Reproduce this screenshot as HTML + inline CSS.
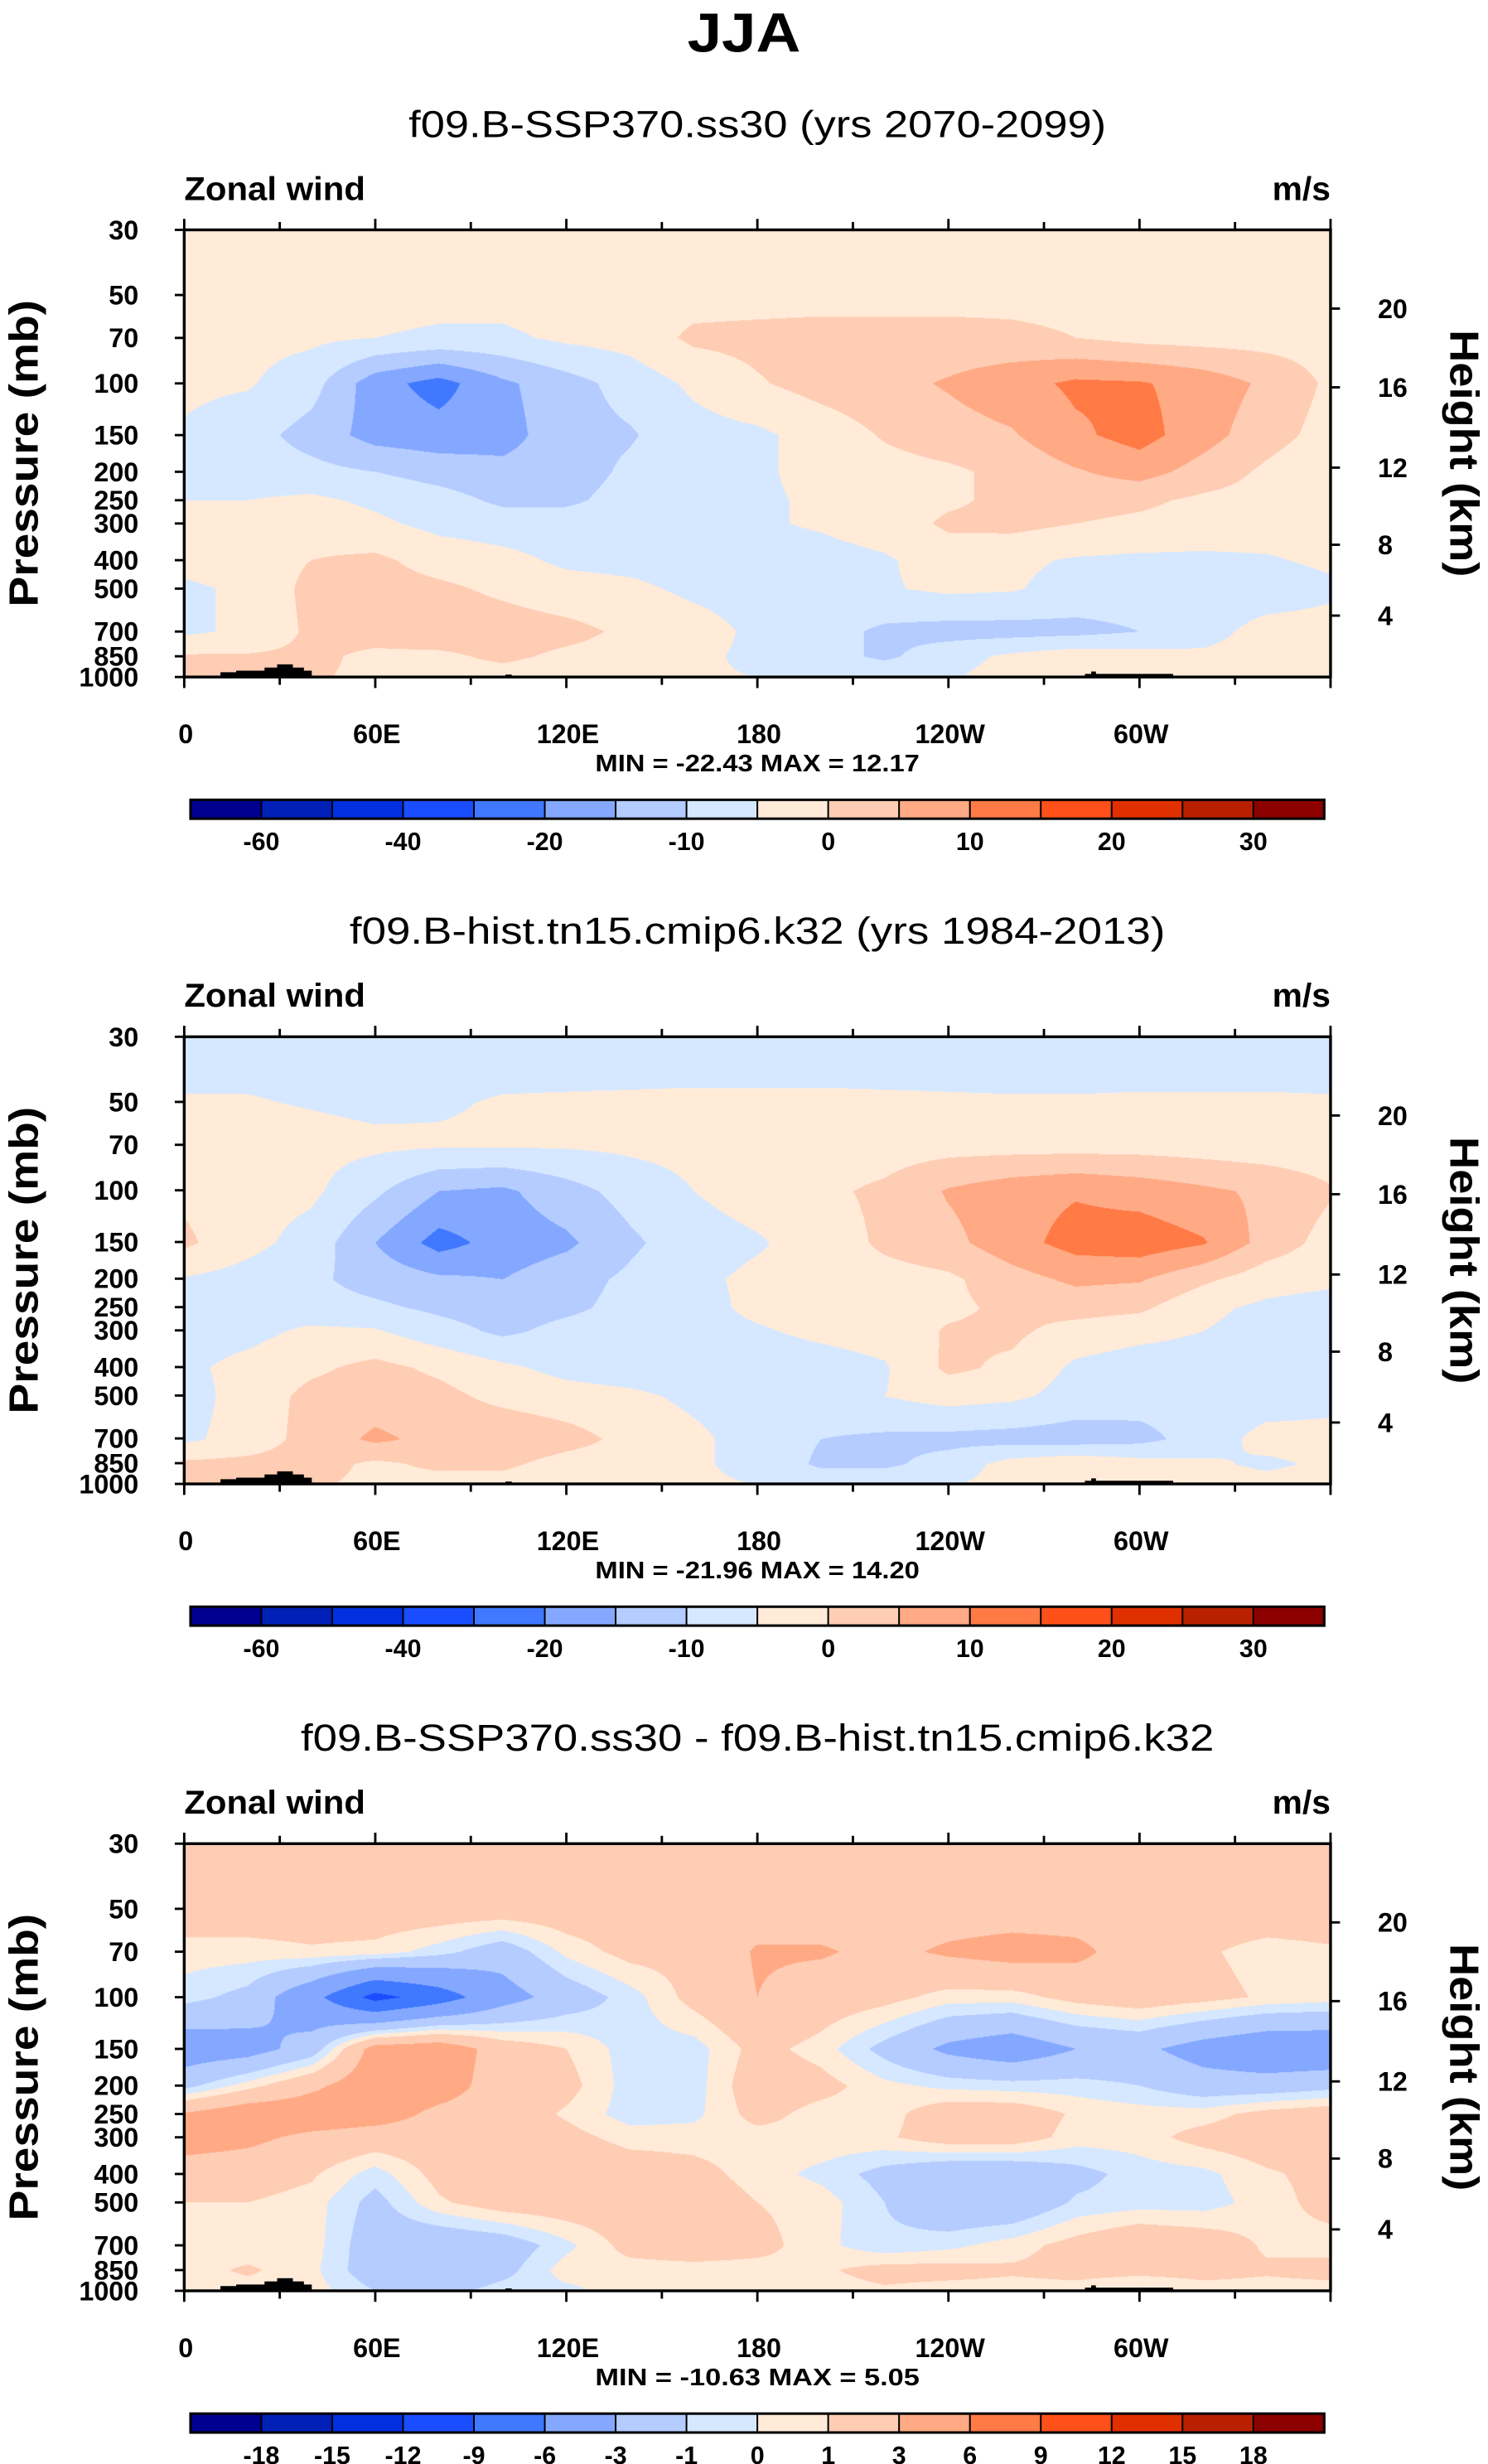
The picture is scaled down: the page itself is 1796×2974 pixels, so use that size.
<!DOCTYPE html>
<html><head><meta charset="utf-8">
<style>
html,body{margin:0;padding:0;background:#fff;}
body{width:1796px;height:2974px;overflow:hidden;position:relative;}
#stage{position:absolute;left:0;top:0;width:945px;height:1565px;transform:scale(1.90053,1.90032);transform-origin:0 0;}
canvas{position:absolute;}
svg{position:absolute;left:0;top:0;}
text{font-family:"Liberation Sans",Arial,sans-serif;font-weight:bold;fill:#000;}
</style></head>
<body>
<div id="stage">
<canvas id="c0" width="1383" height="540" style="left:117px;top:146px;width:728px;height:284px"></canvas>
<canvas id="c1" width="1383" height="540" style="left:117px;top:658.5px;width:728px;height:284px"></canvas>
<canvas id="c2" width="1383" height="540" style="left:117px;top:1171px;width:728px;height:284px"></canvas>
<svg id="sv" width="945" height="1565" viewBox="0 0 945 1565"></svg>
</div>
<script>
const PRESS = [30,50,70,100,150,200,250,300,400,500,700,850,1000];
const LONS = [0,20,40,60,80,100,120,140,160,180,200,220,240,260,280,300,320,340,360];
const LEVELS_ABS = [-60,-50,-40,-30,-20,-15,-10,-5,0,5,10,15,20,25,30];
const LEVELS_DIFF = [-18,-15,-12,-9,-6,-3,-1,0,1,3,6,9,12,15,18];
const LABELS_ABS = ["-60","-40","-20","-10","0","10","20","30"];
const LABEL_IDX_ABS = [0,2,4,6,8,10,12,14];
const LABELS_DIFF = ["-18","-15","-12","-9","-6","-3","-1","0","1","3","6","9","12","15","18"];
const COLORS = ["#000090","#0020B8","#0030E0","#1A4DFF","#4078FF","#84A8FF","#B4CCFF","#D6E8FF","#FFEBD8","#FFCCB4","#FFAA84","#FF7A45","#FF501A","#E03000","#B82000","#8C0000"];
const X_TICKS = ["0","60E","120E","180","120W","60W"];
const HEIGHT_KM = ["20","16","12","8","4"];

const U_SSP = [
[-2,-2,-2,-2,-2,-2,-2,-2,-2,-2,-2,-2,-2,-2,-2,-2,-2,-2,-2],
[-2,-2,-2,-2.5,-3,-3,-2.5,-2,-2,-2,-2,-2,-2,-2,-2,-2,-2,-2,-2],
[-3,-3.5,-4,-5,-6,-6,-4,-3,1,1.5,2,2,2,1.5,0,-1.5,-2,-2,-2],
[-4,-4.5,-8,-18,-22,-16,-12,-8,-4,-0.5,2,3.5,5.5,8,11,10.5,8,4,-1],
[-5.5,-8,-12,-17,-18,-17,-12,-10.5,-7,-6,-3,0.5,3,4.5,9,12,7,2,-2],
[-6,-7.5,-8.5,-10,-12,-13.5,-12.5,-9,-6,-5.5,-4,-2,-1,1.5,4.5,7,3,-1,-4],
[-5,-5,-4,-6,-8,-11,-11,-8,-6.5,-5.5,-4.5,-3,-1,1.5,2,1,-1,-2,-3],
[-3,-2.5,-2,-4,-6.5,-7.5,-7.5,-7,-6.5,-5.5,-4.5,-3,1,1.5,0,-1,-2,-2.5,-3],
[-3,-2.5,0,1,-2,-3.5,-6,-6.5,-7,-7,-6.5,-5.5,-3,-4,-5.5,-6,-6,-5.5,-4],
[-6,-4,1.5,2,1,-1,-3,-4,-6,-7,-7,-5.5,-4,-4.5,-7,-7.5,-8,-8,-6],
[-6,-4,1,2,3,2.5,1.5,-1,-3,-6,-8,-11,-12,-12,-11.5,-10,-7,-3,-3],
[0.5,0.5,1,-1,-1,1,-1,-2,-4,-6,-8,-11,-7,-4,-2,-3,-4,-3,-2],
[1,1,0.5,-1,-2,-2,-3,-4,-4.5,-5,-6,-6,-5.5,-3,-1,-2,-3,-3,-2]
];
const U_HIST = [
[-7,-7,-7,-7,-7,-7,-7,-7,-7,-7,-7,-7,-7,-7,-7,-7,-7,-7,-7],
[-4.7,-4.7,-5.3,-6,-5.4,-4.7,-4.6,-4.5,-4.4,-4.4,-4.4,-4.5,-4.6,-4.7,-4.7,-4.6,-4.6,-4.6,-4.7],
[-3,-3,-3.5,-4,-4.5,-4.5,-4.5,-4,-3.5,-3,-3,-2.5,-2,-2,-2,-2,-2.5,-3,-3],
[-1,-3,-4,-9,-15,-16,-12,-8,-5,-3,-1,1,5.5,8,9.5,8,6,4,0.5],
[1,-3.5,-7,-15,-22,-18,-16,-11,-7,-5.5,-3,1,3.5,8,12,13,10.5,3,-2],
[-5.5,-7,-9,-12,-14,-15,-12,-9,-6,-4,-3,-2,-1,3,6,5.5,1,-3,-4],
[-7,-7.5,-8,-9,-11,-12.5,-11,-8.5,-6.5,-4,-3,-2,-1,1,2,1,-4,-6,-7],
[-7,-6.5,-4,-4.5,-8,-11,-8.5,-7.5,-6.5,-5.5,-4,-3,0.5,1,-2,-3.5,-5,-6.5,-7],
[-6,-3.5,-1,1.5,-1,-4,-6.5,-7.5,-8,-7.5,-7,-5.5,1,-1,-6,-7.5,-7.5,-7.5,-7.5],
[-7,-3,1.5,2.5,1.5,-1.5,-3,-4,-6,-7,-7,-5,-3,-4,-7,-8,-8,-8,-7],
[-6,-3,2,6,3.5,4,2,-1.5,-4,-7,-10,-11,-11.5,-12,-12.5,-11.5,-8,-3,-3],
[1,1.5,2,-1,1,1,-2,-3,-4.5,-6,-11,-11,-8,-3,-1,-3,-4,-6,-4],
[1,1,0.5,-1,-2,-2,-3,-4,-4.5,-5,-6,-6,-5.5,-3,-1,-2,-3,-3,-2]
];
const U_DIFF = [
[2.5,2.5,2.5,2.5,2.5,2.5,2.5,2.5,2.5,2.5,2.5,2.5,2.5,2.5,2.5,2.5,2.5,2.5,2.5],
[2,2,2,2,2,2,2,2,2,2,2,2,2,2,2,2,2,2,2],
[0.5,0.5,0.8,0.6,-0.5,-2,0.3,1.5,1.5,3.2,3.2,2.5,3.3,3.8,3.5,2,1.2,0.5,0.8],
[-0.5,-1.5,-5,-10,-7.5,-4,-2,-0.5,1.5,3,2,1.5,0.5,0.5,1.5,2,1.5,0.8,0.5],
[-4.5,-4,-2,4,4.5,2,1,-0.5,-0.5,1.5,0.5,-1.5,-3.5,-4.5,-3,-2.5,-4,-5,-5],
[-1.5,0.5,2.5,4.5,4,2,1.5,-0.5,-0.5,2,1.5,0.3,-0.3,-0.5,-0.5,-1,-2,-2,-1.5],
[3.2,4.5,4.5,4,2.5,2,0.8,-0.5,-0.3,1.5,0.5,0.5,2,2,0.8,0.5,0.5,1.5,2],
[4,3.5,2.5,2,2,2,1.5,0.5,0.5,0.5,0.7,0.8,1.8,1.8,0.5,0.5,1.5,2,2],
[2,1.8,1.2,-0.5,1.5,2.5,2.5,2,1.5,0.5,-0.3,-1.5,-2.5,-2.5,-1.5,-0.5,-0.3,0.8,1.5],
[1,1,0.5,-1.5,0.8,1.8,2,2,2,1,0.5,-1,-2.5,-2.5,-0.8,-0.5,-0.5,0.5,1.5],
[0.5,0.3,0.5,-2,-2.5,-2,-0.3,1.5,2,1.5,0.3,-0.7,-0.3,0.5,1.5,2.5,2,0.8,0.5],
[0.5,1.2,0.3,-2,-2.5,-1.5,0.5,0.5,0.5,0.5,0.8,1.5,1.5,1.2,1.5,1.5,1.5,1.2,1.5],
[0.5,0.5,0.5,-1,-1.5,-0.5,-0.3,0.5,0.5,0.5,0.5,0.8,0.5,0.5,0.5,-0.3,0.5,0.5,0.5]
];

const PL = 117, PW = 728, PH = 284;
const LOGSPAN = Math.log(1000/30);
function yOfP(p){ return Math.log(p/30)/LOGSPAN*PH; }
function xOfLon(l){ return PL + l/360*PW; }

function colorIndex(v, lev){ let i=0; while(i<lev.length && v>=lev[i]) i++; return i; }
function hexToRgb(h){ return [parseInt(h.substr(1,2),16),parseInt(h.substr(3,2),16),parseInt(h.substr(5,2),16)]; }
const RGB = COLORS.map(hexToRgb);

function drawField(id, grid, lev){
  const cv=document.getElementById(id), ctx=cv.getContext('2d');
  const W=cv.width,H=cv.height, img=ctx.createImageData(W,H);
  const rowY = PRESS.map(p=>yOfP(p)/PH);
  for(let py=0;py<H;py++){
    const f=(py+0.5)/H;
    let r=0; while(r<PRESS.length-2 && f>rowY[r+1]) r++;
    const t=Math.min(1,Math.max(0,(f-rowY[r])/(rowY[r+1]-rowY[r])));
    for(let px=0;px<W;px++){
      const lon=(px+0.5)/W*360;
      let c=0; while(c<LONS.length-2 && lon>LONS[c+1]) c++;
      const s=(lon-LONS[c])/(LONS[c+1]-LONS[c]);
      const v=(grid[r][c]*(1-s)+grid[r][c+1]*s)*(1-t)+(grid[r+1][c]*(1-s)+grid[r+1][c+1]*s)*t;
      const col=RGB[colorIndex(v,lev)], k=(py*W+px)*4;
      img.data[k]=col[0];img.data[k+1]=col[1];img.data[k+2]=col[2];img.data[k+3]=255;
    }
  }
  ctx.putImageData(img,0,0);
}
drawField('c0',U_SSP,LEVELS_ABS);
drawField('c1',U_HIST,LEVELS_ABS);
drawField('c2',U_DIFF,LEVELS_DIFF);

const NS='http://www.w3.org/2000/svg', sv=document.getElementById('sv');
function mk(tag,attrs,parent){ const e=document.createElementNS(NS,tag); for(const k in attrs) e.setAttribute(k,attrs[k]); (parent||sv).appendChild(e); return e; }
function txt(s,x,y,size,anchor,parent,extra){ const e=mk('text',Object.assign({x:x,y:y,'font-size':size,'text-anchor':anchor||'start'},extra||{}),parent); e.textContent=s; return e; }

let t=txt('JJA',472.5,33,35,'middle',null,{textLength:72,lengthAdjust:'spacingAndGlyphs'});
 

const SUBS=["f09.B-SSP370.ss30 (yrs 2070-2099)","f09.B-hist.tn15.cmip6.k32 (yrs 1984-2013)","f09.B-SSP370.ss30 - f09.B-hist.tn15.cmip6.k32"];
const SUBW=[443,518,580];
const MINMAX=["MIN = -22.43  MAX =  12.17","MIN = -21.96  MAX =  14.20","MIN = -10.63  MAX =  5.05"];
const KMOFF=[50,100,151,200,245];
const XLAB_LON=[0,60,120,180,240,300];

for(let i=0;i<3;i++){
  const top=146+i*512.5;
  const g=mk('g',{});
  
  
  let e=txt(SUBS[i],481,top-59,24,'middle',g,{textLength:SUBW[i],lengthAdjust:'spacingAndGlyphs'});
  e.setAttribute('style','font-weight:normal');
   
  e=txt('Zonal wind',117,top-19,21,'start',g,{textLength:115,lengthAdjust:'spacingAndGlyphs'});
   
  e=txt('m/s',845,top-19,21,'end',g,{textLength:37,lengthAdjust:'spacingAndGlyphs'});
   
  const topo=mk('path',{d:`M140,${top+284} L140,${top+281} L150,${top+281} L150,${top+280} L168,${top+280} L168,${top+278} L176,${top+278} L176,${top+276} L186,${top+276} L186,${top+278} L193,${top+278} L193,${top+280} L198,${top+280} L198,${top+284} Z M321,${top+284} L321,${top+282.5} L325,${top+282.5} L325,${top+284} Z M689,${top+284} L689,${top+282} L693,${top+282} L693,${top+280.5} L696,${top+280.5} L696,${top+282} L745,${top+282} L745,${top+284} Z`,fill:'#000'},g);
   
  e=mk('rect',{x:PL,y:top,width:PW,height:PH,fill:'none',stroke:'#000','stroke-width':1.8},g);
   
  PRESS.forEach(p=>{
    const y=top+yOfP(p);
    mk('line',{x1:PL-6,x2:PL,y1:y,y2:y,stroke:'#000','stroke-width':1.5},g);
    const l=txt(String(p),88,y+6,17,'end',g);
     
  });
  HEIGHT_KM.forEach((h,k)=>{
    const y=top+KMOFF[k];
    mk('line',{x1:PL+PW,x2:PL+PW+6,y1:y,y2:y,stroke:'#000','stroke-width':1.5},g);
    const l=txt(h,875,y+6,17,'start',g);
     
  });
  for(let lon=0;lon<=360;lon+=30){
    const x=xOfLon(lon), len=(lon%60===0)?7:5;
    mk('line',{x1:x,x2:x,y1:top+PH,y2:top+PH+len,stroke:'#000','stroke-width':1.5},g);
    mk('line',{x1:x,x2:x,y1:top,y2:top-len,stroke:'#000','stroke-width':1.5},g);
  }
  X_TICKS.forEach((s,k)=>{
    const l=txt(s,xOfLon(XLAB_LON[k])+1,top+PH+42,17,'middle',g);
     
  });
  e=txt('Pressure (mb)',0,0,26,'middle',g,{transform:`translate(24,${top+142}) rotate(-90)`,textLength:195,lengthAdjust:'spacingAndGlyphs'});
   
  e=txt('Height (km)',0,0,26,'middle',g,{transform:`translate(921,${top+142}) rotate(90)`,textLength:157,lengthAdjust:'spacingAndGlyphs'});
   
  e=txt(MINMAX[i],481,top+PH+60,15,'middle',g,{textLength:206,lengthAdjust:'spacingAndGlyphs'});
   
  const cb=mk('g',{},g);
   
  const cy=top+362, bw=45;
  COLORS.forEach((c,k)=>{
    const r=mk('rect',{x:121+k*bw,y:cy,width:bw,height:12,fill:c,stroke:'#000','stroke-width':1},cb);
     
  });
  mk('rect',{x:121,y:cy,width:bw*16,height:12,fill:'none',stroke:'#000','stroke-width':1.6},cb);
  const labs = i<2?LABELS_ABS:LABELS_DIFF;
  const idx = i<2?LABEL_IDX_ABS:LABELS_DIFF.map((_,k)=>k);
  labs.forEach((s,k)=>{
    const l=txt(s,121+(idx[k]+1)*bw,cy+32,16,'middle',cb);
     
  });
}
</script>
</body></html>
